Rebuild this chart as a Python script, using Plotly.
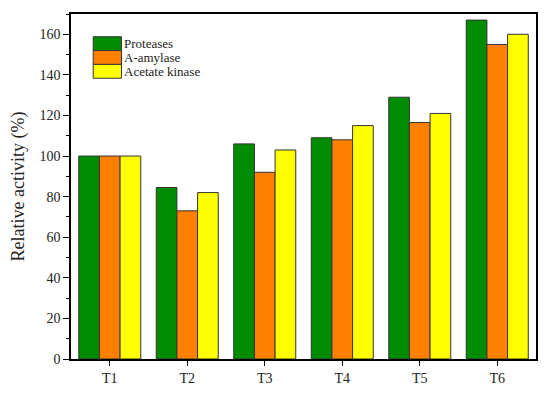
import plotly.graph_objects as go

categories = ["T1", "T2", "T3", "T4", "T5", "T6"]
series_names = ["Proteases", "A-amylase", "Acetate kinase"]
proteases = [100, 84.5, 106, 109, 129, 167]
amylase = [100, 73, 92, 108, 116.5, 155]
acetate_kinase = [100, 82, 103, 115, 121, 160]
colors = ["#008C00", "#FF8000", "#FFFF00"]

fig = go.Figure()
for name, vals, c in zip(series_names, [proteases, amylase, acetate_kinase], colors):
    fig.add_trace(go.Bar(x=categories, y=vals, name=name, marker_color=c,
                         marker_line_color="#333333", marker_line_width=1,
                         showlegend=False))

font = "Liberation Serif, Times New Roman, serif"
# page body has an 8px margin; figure sized to fit inside it
OFF = 8
L, R, T, B = 71, 538, 13, 362  # plot area in window pixels
W, H = 550 - 2 * OFF, 398 - 2 * OFF
fig.update_layout(
    width=W, height=H,
    margin=dict(l=L - OFF, r=550 - OFF - R, t=T - OFF, b=H - (B - OFF), pad=0),
    plot_bgcolor="white", paper_bgcolor="white",
    barmode="group", bargap=0.2, bargroupgap=0,
    font=dict(family=font, size=14, color="#222222"),
)
fig.update_xaxes(range=[-0.5, 5.5], showline=True, linecolor="black", linewidth=1.5,
                 mirror=True, ticks="outside", ticklen=5, tickcolor="black",
                 tickfont=dict(size=14, family=font))
fig.update_yaxes(range=[0, 170], dtick=20, showline=True, linecolor="black", linewidth=1.5,
                 mirror=True, ticks="outside", ticklen=6, tickcolor="black",
                 showgrid=False, zeroline=False,
                 minor=dict(dtick=10, ticks="outside", ticklen=3, tickcolor="black"),
                 tickfont=dict(size=14, family=font),
                 title=dict(text="Relative activity (%)", font=dict(size=18, family=font), standoff=14))

# custom legend (paper coordinates)
px0, px1 = 93.3, 121.7
pw, ph = float(R - L), float(B - T)
for i, (name, c) in enumerate(zip(series_names, colors)):
    y_top = 36 + i * 14
    y_bot = y_top + 14
    fig.add_shape(type="rect", xref="paper", yref="paper",
                  x0=(px0 - L) / pw, x1=(px1 - L) / pw,
                  y0=(B - y_bot) / ph, y1=(B - y_top) / ph,
                  fillcolor=c, line=dict(color="#333333", width=1))
    fig.add_annotation(xref="paper", yref="paper", x=(124 - L) / pw, y=(B - (y_top + 7)) / ph,
                       text=name, showarrow=False, xanchor="left", yanchor="middle",
                       xshift=-2, font=dict(size=13, family=font, color="#222222"))

fig.write_html("out.html")
